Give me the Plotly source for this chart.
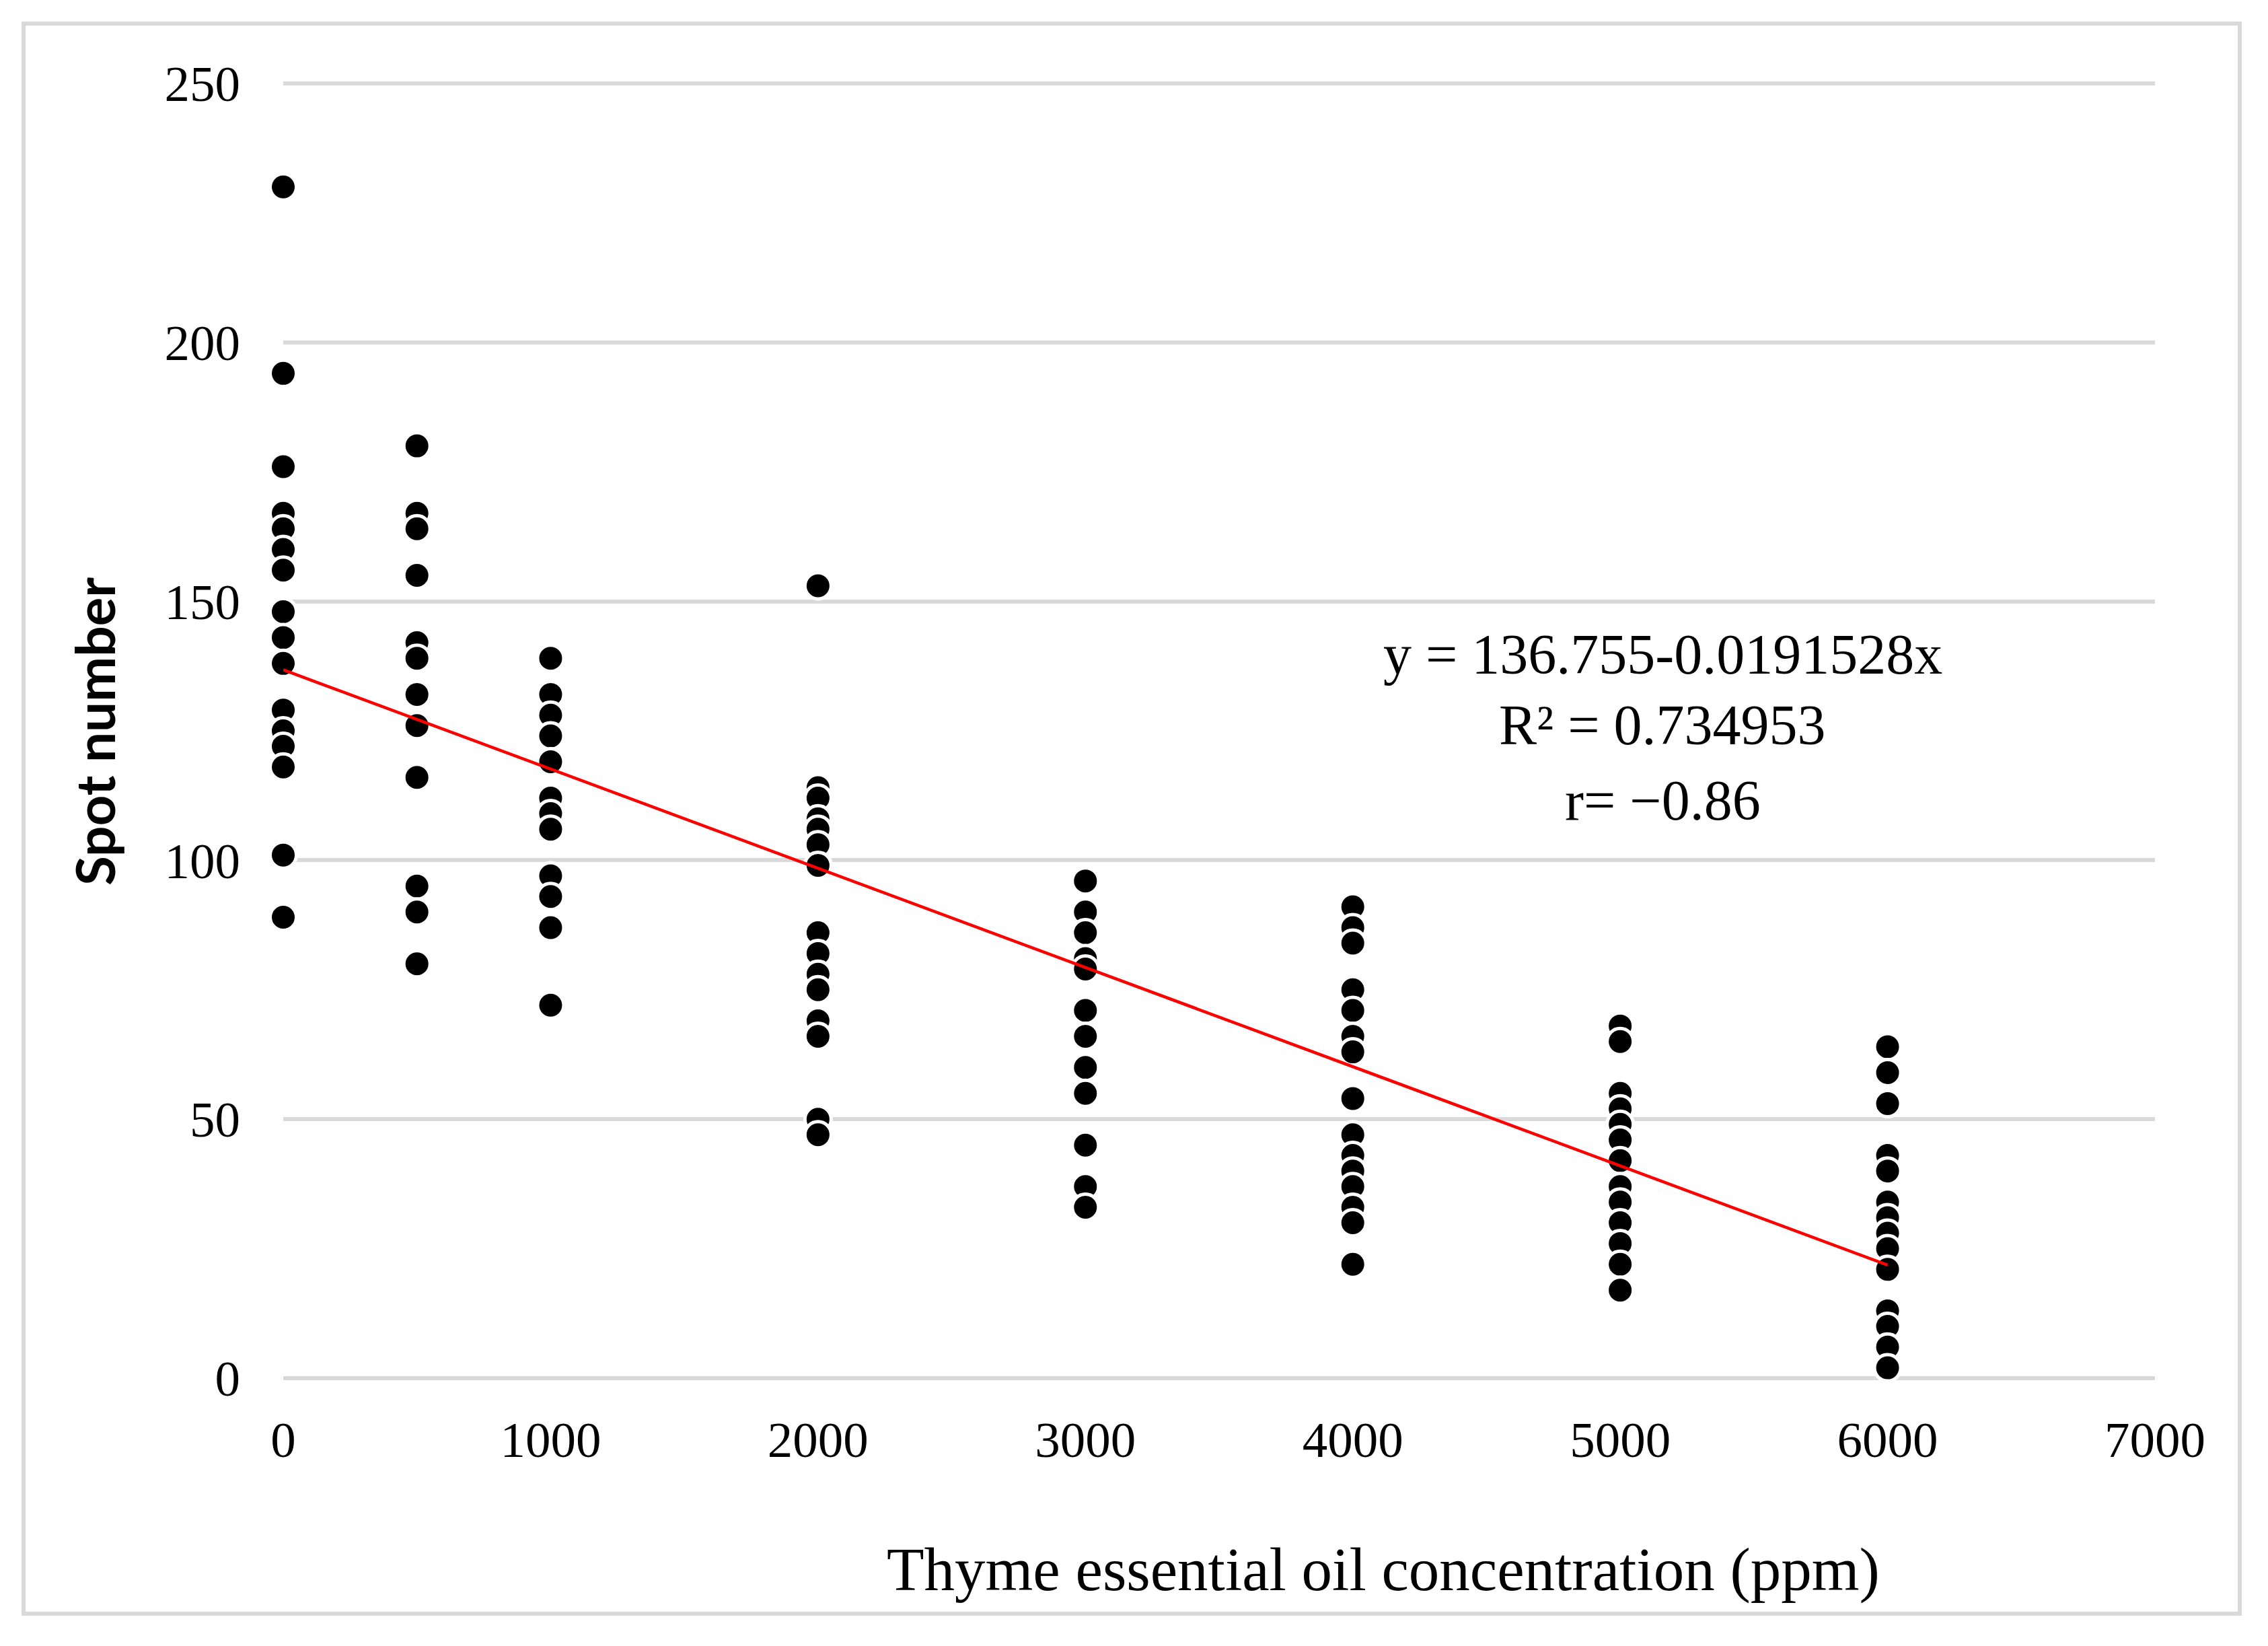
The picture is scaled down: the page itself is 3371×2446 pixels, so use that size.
import plotly.graph_objects as go

# ---- data ----
concentrations = [0, 500, 1000, 2000, 3000, 4000, 5000, 6000]
spots_0 = [230, 194, 176, 167, 164, 160, 156, 148, 143, 138, 129, 125, 122, 118, 101, 89]
spots_500 = [180, 167, 164, 155, 142, 139, 132, 126, 116, 95, 90, 80]
spots_1000 = [139, 132, 128, 124, 119, 112, 109, 106, 97, 93, 87, 72]
spots_2000 = [153, 114, 112, 108, 106, 103, 99, 86, 82, 78, 75, 69, 66, 50, 47]
spots_3000 = [96, 90, 86, 81, 79, 71, 66, 60, 55, 45, 37, 33]
spots_4000 = [91, 87, 84, 75, 71, 66, 63, 54, 47, 43, 40, 37, 33, 30, 22]
spots_5000 = [68, 65, 55, 52, 49, 46, 42, 37, 34, 30, 26, 22, 17]
spots_6000 = [64, 59, 53, 43, 40, 34, 31, 28, 25, 21, 13, 10, 6, 2]

intercept = 136.755
slope = -0.0191528
trend_x = [0, 6000]

eq_lines = ["y = 136.755-0.0191528x", "R² = 0.734953", "r= \u22120.86"]
x_title = "Thyme essential oil concentration (ppm)"
y_title = "Spot number"
x_ticks = [0, 1000, 2000, 3000, 4000, 5000, 6000, 7000]
y_ticks = [0, 50, 100, 150, 200, 250]

groups = [spots_0, spots_500, spots_1000, spots_2000,
          spots_3000, spots_4000, spots_5000, spots_6000]
xs, ys = [], []
for c, g in zip(concentrations, groups):
    for v in g:
        xs.append(c)
        ys.append(v)
trend_y = [intercept + slope * x for x in trend_x]

# page body has an 8px default margin
OFF = 8
W, H = 3355, 2430
L, T = 413, 112
pw, ph = 2782, 1928
R = W - L - pw
B = H - T - ph

def px2paper_x(page_px):
    return (page_px - OFF - L) / pw

def px2paper_y(page_py):
    return (T + ph - (page_py - OFF)) / ph

fig = go.Figure()
fig.add_trace(go.Scatter(
    x=xs, y=ys, mode="markers",
    marker=dict(size=39, color="black", line=dict(color="white", width=5)),
    cliponaxis=False, showlegend=False, hoverinfo="skip"))
fig.add_trace(go.Scatter(
    x=trend_x, y=trend_y, mode="lines",
    line=dict(color="#ff0000", width=4.5),
    cliponaxis=False, showlegend=False, hoverinfo="skip"))

serif = "Liberation Serif, Times New Roman, serif"

fig.update_layout(
    width=W, height=H,
    margin=dict(l=L, r=R, t=T, b=B),
    paper_bgcolor="white", plot_bgcolor="white",
    font=dict(family=serif, size=75, color="black"),
    xaxis=dict(range=[0, 7000], tickvals=x_ticks, showgrid=False, zeroline=False,
               showline=False, ticks="", ticklabelstandoff=41,
               tickfont=dict(family=serif, size=75, color="black")),
    yaxis=dict(range=[0, 250.5], tickvals=y_ticks, showgrid=True, gridcolor="#d9d9d9",
               gridwidth=6, zeroline=True, zerolinecolor="#d9d9d9", zerolinewidth=6,
               showline=False, ticks="", ticklabelstandoff=63,
               tickfont=dict(family=serif, size=75, color="black")),
)

# outer chart border
fig.add_shape(type="rect", xref="paper", yref="paper",
              x0=px2paper_x(35), x1=px2paper_x(3329),
              y0=px2paper_y(2398), y1=px2paper_y(35),
              line=dict(color="#d9d9d9", width=6), fillcolor="rgba(0,0,0,0)",
              layer="below")

# axis titles
fig.add_annotation(text=x_title, xref="paper", yref="paper",
                   x=px2paper_x(2056), y=px2paper_y(2332),
                   xanchor="center", yanchor="middle", showarrow=False,
                   font=dict(family=serif, size=91, color="black"))
fig.add_annotation(text=y_title, xref="paper", yref="paper",
                   x=px2paper_x(140), y=px2paper_y(1087), textangle=-90,
                   xanchor="center", yanchor="middle", showarrow=False,
                   font=dict(family="Lato, Carlito, sans-serif", size=80,
                             color="black", weight="bold"))

# regression text
eq_y = [972, 1077, 1189]
for txt, py in zip(eq_lines, eq_y):
    fig.add_annotation(text=txt, xref="paper", yref="paper",
                       x=px2paper_x(2471), y=px2paper_y(py),
                       xanchor="center", yanchor="middle", showarrow=False,
                       font=dict(family=serif, size=84, color="black"))

fig.write_html("out.html")
